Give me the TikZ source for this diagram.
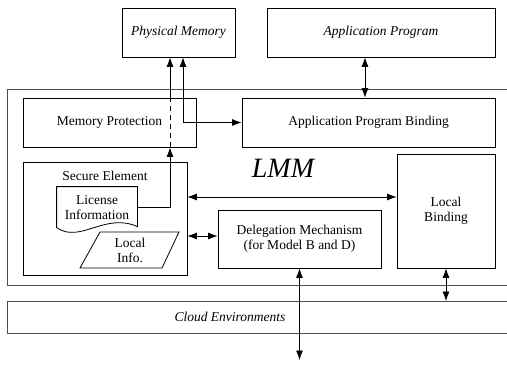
\documentclass[tikz,border=0pt]{standalone}
\usepackage{fontspec}
\setmainfont{Liberation Serif}
\usepackage{tikz}
\usetikzlibrary{arrows.meta,positioning,calc}

\begin{document}
\begin{tikzpicture}[x=1pt, y=-1pt, thick,
    line width=0.8pt, >={Latex[length=9.5pt,width=7pt]},
    font=\fontsize{13.5}{15}\selectfont,
    blk/.style={draw, rectangle, align=center, inner sep=0pt},
    outer/.style={draw=black!70, line width=0.9pt}]
    \useasboundingbox (0,0) rectangle (507,365);
    \clip (0,0) rectangle (507,365);

    % Outside the manager
    \node[blk, minimum width=113pt, minimum height=49pt] (pm) at (178.5,32.5) {\itshape Physical Memory};
    \node[blk, minimum width=228pt, minimum height=49pt] (ap) at (381,32.5) {\itshape Application Program};

    % LMM frame and cloud layer
    \draw[outer] (7,89) rectangle (530,285);
    \node[font=\fontsize{28}{30}\selectfont\itshape] (lmm) at (283,168) {LMM};
    \draw[outer] (7,301) rectangle (530,333);
    \coordinate (cloud) at (447,301);
    \node (cloudtxt) at (230,317) {\itshape Cloud Environments};

    % Inner blocks
    \node[blk, minimum width=173pt, minimum height=49pt] (mp) at (109.5,122.5) {Memory Protection};
    \node[blk, minimum width=253pt, minimum height=49pt] (apb) at (368.5,122.5) {Application Program Binding};
    \node[blk, minimum width=164pt, minimum height=113pt] (se) at (105,218.5) {};
    \node (setxt) at (105,176) {Secure Element};
    \node[blk, minimum width=98pt, minimum height=114pt] (lb) at (446,211) {Local\\Binding};
    \node[blk, minimum width=163pt, minimum height=58pt] (dm) at (299.5,239) {Delegation Mechanism\\(for Model B and D)};

    % License document with wavy bottom
    \node[align=center, minimum width=80pt, minimum height=41pt, inner sep=0pt] (lic) at (97,207.5) {License\\Information};
    \draw ([yshift=-41pt]lic.north west) -- (lic.north west) -- (lic.north east) -- ([yshift=-40pt]lic.north east)
        .. controls (105,212) and (80,244) .. ([yshift=-41pt]lic.north west);

    % Local info parallelogram
    \draw[fill=white] (100,232) -- (179,232) -- (162,268) -- (80,268) -- cycle;
    \node[align=center] (li) at (130,250) {Local\\Info.};

    % Links to physical memory
    \coordinate (pa) at ([xshift=-8.5pt]pm.south);
    \coordinate (pb) at ([xshift=4.5pt]pm.south);
    \draw[->] (lic.east) -| (pa |- mp.south);
    \draw[dash pattern=on 5pt off 4pt] (pa |- mp.south) -- (pa |- mp.north);
    \draw[->] (pa |- mp.north) -- (pa);
    \draw[<->] (pb) |- (apb.west);

    % Other connectors
    \draw[<->] ([xshift=-16pt]ap.south) -- ([xshift=-16pt]ap.south |- apb.north);
    \draw[<->] ([yshift=21.5pt]se.east) -- ([yshift=21.5pt]se.east -| lb.west);
    \draw[<->] ([yshift=3pt]se.east |- dm.west) -- ([yshift=3pt]dm.west);
    \coordinate (dmout) at (300,360);
    \draw[<->] (dm.south) -- (dm.south |- dmout);
    \draw[<->] (lb.south) -- (lb.south |- cloud);
\end{tikzpicture}
\end{document}
